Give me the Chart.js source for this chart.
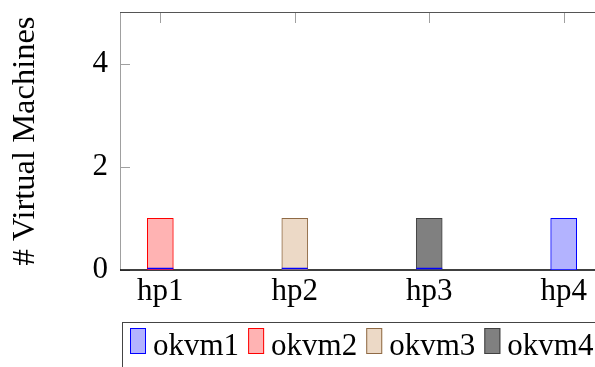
<!DOCTYPE html>
<html>
<head>
<meta charset="utf-8">
<script src="https://cdn.jsdelivr.net/npm/chart.js@4"></script>
<style>
html, body { margin: 0; padding: 0; background: #fff; overflow: hidden; }
</style>
</head>
<body>
<canvas id="myChart" width="610" height="367"></canvas>
<script>
const hosts = ['hp1', 'hp2', 'hp3', 'hp4'];
const okvm1 = [0, 0, 0, 1];
const okvm2 = [1, 0, 0, 0];
const okvm3 = [0, 1, 0, 0];
const okvm4 = [0, 0, 1, 0];
const yTicks = [0, 2, 4];

const serif = 'Liberation Serif';

function pts(arr) {
    return arr.map((v, i) => ({ x: i + 1, y: v }));
}

// axis frame + inward tick marks, drawn under the bars
const framePlugin = {
    id: 'frame',
    beforeDatasetsDraw(chart) {
        const ctx = chart.ctx;
        const a = chart.chartArea;
        const xs = chart.scales.x;
        const ys = chart.scales.y;
        ctx.save();
        ctx.lineWidth = 1;
        ctx.strokeStyle = '#a0a0a0';
        ctx.beginPath();
        ctx.moveTo(a.left + 0.5, a.top);
        ctx.lineTo(a.left + 0.5, a.bottom);
        yTicks.forEach(v => {
            const y = Math.round(ys.getPixelForValue(v)) + 0.5;
            ctx.moveTo(a.left, y);
            ctx.lineTo(a.left + 10, y);
        });
        hosts.forEach((h, i) => {
            const x = Math.round(xs.getPixelForValue(i + 1)) + 0.5;
            ctx.moveTo(x, a.top);
            ctx.lineTo(x, a.top + 11);
        });
        ctx.stroke();
        ctx.strokeStyle = '#555';
        ctx.beginPath();
        ctx.moveTo(a.left, a.top + 0.5);
        ctx.lineTo(chart.width, a.top + 0.5);
        ctx.stroke();
        ctx.strokeStyle = '#000';
        ctx.lineWidth = 1.5;
        ctx.beginPath();
        ctx.moveTo(a.left, a.bottom);
        ctx.lineTo(chart.width, a.bottom);
        ctx.stroke();
        ctx.restore();
    },
    // first series' empty bars still show their outline at the base
    afterDatasetsDraw(chart) {
        const ctx = chart.ctx;
        const meta = chart.getDatasetMeta(0);
        const ds = chart.data.datasets[0];
        ctx.save();
        ctx.strokeStyle = ds.borderColor;
        ctx.lineWidth = 1.5;
        meta.data.forEach((bar, i) => {
            if (okvm1[i] !== 0) return;
            const y = bar.base - 1.5;
            ctx.beginPath();
            ctx.moveTo(bar.x - bar.width / 2, y);
            ctx.lineTo(bar.x + bar.width / 2, y);
            ctx.stroke();
        });
        ctx.restore();
    }
};

// boxed legend under the axis
const legendPlugin = {
    id: 'boxLegend',
    afterDraw(chart) {
        const ctx = chart.ctx;
        ctx.save();
        ctx.strokeStyle = '#444';
        ctx.lineWidth = 1;
        ctx.strokeRect(122.5, 322.5, 600, 100);
        ctx.font = '31px "' + serif + '"';
        ctx.textBaseline = 'alphabetic';
        let x = 130;
        chart.data.datasets.forEach(ds => {
            ctx.fillStyle = ds.backgroundColor;
            ctx.fillRect(x, 328, 16, 26);
            ctx.strokeStyle = ds.borderColor;
            ctx.strokeRect(x + 0.5, 328.5, 15, 25);
            ctx.fillStyle = '#000';
            ctx.fillText(ds.label, x + 23, 355);
            x += 23 + ctx.measureText(ds.label).width + 9;
        });
        ctx.restore();
    }
};

function noPad(s) {
    s.paddingTop = 0;
    s.paddingBottom = 0;
    s.paddingLeft = 0;
    s.paddingRight = 0;
}

const ctx = document.getElementById('myChart').getContext('2d');
const myChart = new Chart(ctx, {
    type: 'bar',
    data: {
        datasets: [
            {
                label: 'okvm1',
                data: pts(okvm1),
                backgroundColor: '#b3b3ff',
                borderColor: '#0000ff'
            },
            {
                label: 'okvm2',
                data: pts(okvm2),
                backgroundColor: '#ffb3b3',
                borderColor: '#ff0000'
            },
            {
                label: 'okvm3',
                data: pts(okvm3),
                backgroundColor: '#ecd9c6',
                borderColor: '#8f6a45'
            },
            {
                label: 'okvm4',
                data: pts(okvm4),
                backgroundColor: '#808080',
                borderColor: '#404040'
            }
        ]
    },
    options: {
        responsive: false,
        animation: false,
        layout: {
            padding: { top: 12, right: 6, bottom: 57, left: 0 }
        },
        datasets: {
            bar: {
                barThickness: 26,
                borderWidth: 1,
                borderSkipped: false
            }
        },
        scales: {
            x: {
                type: 'linear',
                stacked: true,
                offset: false,
                min: 0.7,
                max: 4.3,
                grid: { display: false, drawTicks: false, offset: false },
                border: { display: false },
                afterBuildTicks: s => { s.ticks = hosts.map((h, i) => ({ value: i + 1 })); },
                afterFit: s => { s.height = 40; noPad(s); },
                ticks: {
                    padding: 3,
                    maxRotation: 0,
                    color: '#000',
                    font: { family: serif, size: 31 },
                    callback: v => hosts[v - 1]
                }
            },
            y: {
                stacked: true,
                min: 0,
                max: 5,
                grid: { display: false, drawTicks: false },
                border: { display: false },
                afterBuildTicks: s => { s.ticks = yTicks.map(v => ({ value: v })); },
                afterFit: s => { s.width = 120; noPad(s); },
                ticks: {
                    padding: 12,
                    color: '#000',
                    font: { family: serif, size: 31 }
                },
                title: {
                    display: true,
                    text: '# Virtual Machines',
                    color: '#000',
                    padding: { top: 6, bottom: 0 },
                    font: { family: serif, size: 32.5 }
                }
            }
        },
        plugins: {
            legend: { display: false },
            tooltip: { enabled: false }
        }
    },
    plugins: [framePlugin, legendPlugin]
});
</script>
</body>
</html>
